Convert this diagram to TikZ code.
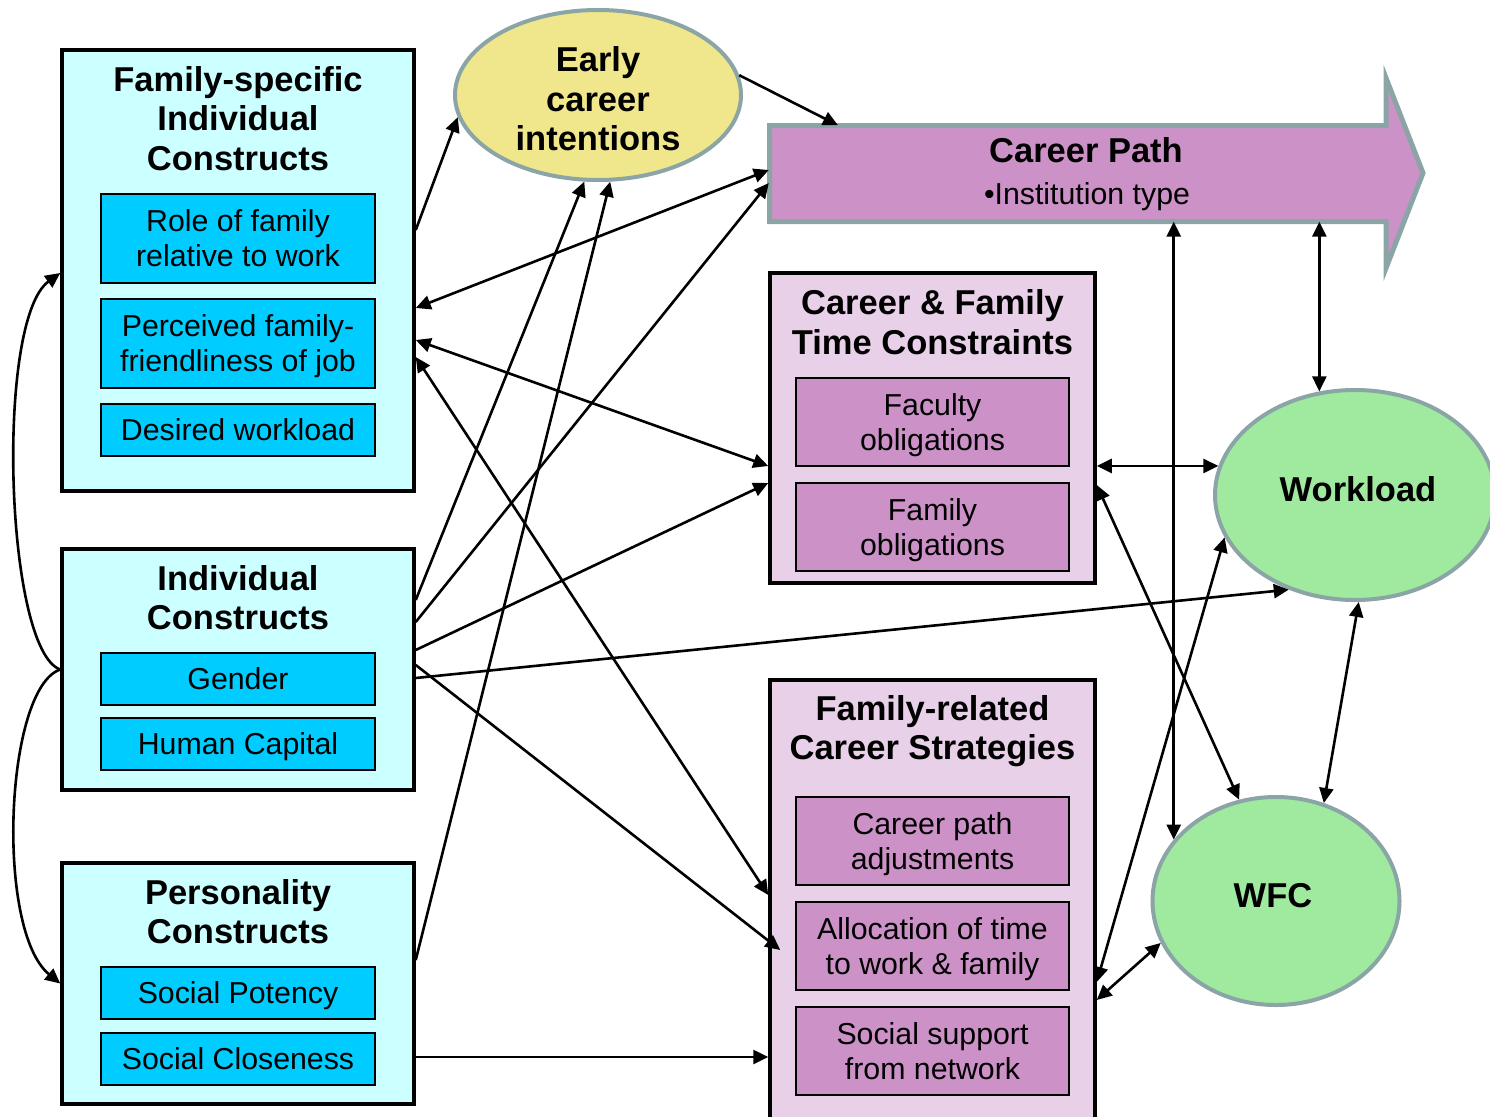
\documentclass[tikz,border=0pt]{standalone}
\usepackage{fontspec}
\setmainfont{Liberation Sans}
\usetikzlibrary{arrows.meta,shapes.geometric,calc}

\definecolor{cyanlight}{HTML}{CCFFFF}
\definecolor{cyanbox}{HTML}{00CCFF}
\definecolor{pinklight}{HTML}{E8D0E8}
\definecolor{orchidbox}{HTML}{CC92C8}
\definecolor{khakifill}{HTML}{F0E68C}
\definecolor{mintfill}{HTML}{A0EAA0}
\definecolor{slateedge}{HTML}{8BA5A6}

\begin{document}
\begin{tikzpicture}[x=1pt,y=-1pt,
  groupbox/.style={draw=black,line width=3.5pt,inner sep=0pt},
  itembox/.style={draw=black,line width=1.8pt,inner sep=0pt,align=center,
    font=\fontsize{30.3}{35}\selectfont},
  oneline/.style={text height=22pt,text depth=0.5pt},
  twoline/.style={text height=57pt,text depth=0.5pt},
  cyanitem/.style={itembox,fill=cyanbox,minimum width=274pt},
  orchiditem/.style={itembox,twoline,fill=orchidbox,minimum width=273pt},
  heading/.style={font=\fontsize{34.5}{39.5}\selectfont\bfseries,align=center,inner sep=0pt},
  oval/.style={ellipse,draw=slateedge,line width=4pt,inner sep=0pt},
  link/.style={line width=2.6pt,draw=black},
  >={Triangle[length=15pt,width=14pt]}
]
\useasboundingbox (0,0) rectangle (1490,1116);

% ---- left column: individual-level constructs ----
\node[groupbox,fill=cyanlight,minimum width=352pt,minimum height=441pt] (fs) at (238,270.5) {};
\node[heading] (fstitle) at (238,118.5) {Family-specific\\Individual\\Constructs};
\node[cyanitem,twoline,minimum height=89pt] (fsrole) at (238,238.5) {Role of family\\relative to work};
\node[cyanitem,twoline,minimum height=89pt] (fsperc) at (238,343.5) {Perceived family-\\friendliness of job};
\node[cyanitem,oneline,minimum height=52pt] (fsdes) at (238,430) {Desired workload};

\node[groupbox,fill=cyanlight,minimum width=352pt,minimum height=241pt] (ic) at (238,669.5) {};
\node[heading] (ictitle) at (238,597.5) {Individual\\Constructs};
\node[cyanitem,oneline,minimum height=52pt] (icgen) at (238,679) {Gender};
\node[cyanitem,oneline,minimum height=52pt] (ichum) at (238,744) {Human Capital};

\node[groupbox,fill=cyanlight,minimum width=352pt,minimum height=241pt] (pc) at (238,983.5) {};
\node[heading] (pctitle) at (238,911.5) {Personality\\Constructs};
\node[cyanitem,oneline,minimum height=52pt] (pcpot) at (238,993) {Social Potency};
\node[cyanitem,oneline,minimum height=52pt] (pcclo) at (238,1059) {Social Closeness};

% ---- early career intentions ----
\node[oval,fill=khakifill,minimum width=286pt,minimum height=170pt] (ec) at (598,95) {};
\node[heading] (ectitle) at (598,99) {Early\\career\\intentions};

% ---- career path arrow ----
\draw[draw=slateedge,fill=orchidbox,line width=5pt,line join=miter]
  (769.5,125.5) -- (1386,125.5) -- (1386,78) -- (1423,173) -- (1386,268)
  -- (1386,221.5) -- (769.5,221.5) -- cycle;
\node[inner sep=0pt,minimum width=616pt,minimum height=96pt] (cp) at (1077,173.5) {};
\node[heading] (cptitle) at (1086,150) {Career Path};
\node[inner sep=0pt,font=\fontsize{30.3}{35}\selectfont] (cpitem) at (1087,197) {•Institution type};

% ---- time constraints ----
\node[groupbox,fill=pinklight,minimum width=325pt,minimum height=310pt] (cftc) at (932.5,428) {};
\node[heading] (cftctitle) at (932.5,322) {Career \& Family\\Time Constraints};
\node[orchiditem,minimum height=88pt] (cffac) at (932.5,422) {Faculty\\obligations};
\node[orchiditem,minimum height=88pt] (cffam) at (932.5,527) {Family\\obligations};

% ---- career strategies ----
\node[groupbox,fill=pinklight,minimum width=325pt,minimum height=450pt] (frcs) at (932.5,905) {};
\node[heading] (frcstitle) at (932.5,731) {Family-related\\Career Strategies};
\node[orchiditem,minimum height=88pt] (frcpath) at (932.5,841) {Career path\\adjustments};
\node[orchiditem,minimum height=88pt] (frcalloc) at (932.5,946) {Allocation of time\\to work \& family};
\node[orchiditem,minimum height=88pt] (frcsup) at (932.5,1051) {Social support\\from network};

% ---- outcomes ----
\node[oval,fill=mintfill,minimum width=280pt,minimum height=210pt] (wl) at (1355,495) {};
\node[heading] (wltitle) at (1358,489) {Workload};
\node[oval,fill=mintfill,minimum width=247pt,minimum height=208pt] (wfc) at (1276,901) {};
\node[heading] (wfctitle) at (1273,896) {WFC};

% ---- connectors ----
% brackets on the left
\draw[link,->] (ic.west) .. controls (5,650) and (-5,320) .. (fs.west |- 0,273);
\draw[link,->] (ic.west) .. controls (5,688) and (-5,930) .. (pc.west);

% from family-specific constructs
\draw[link,->] (fs.east |- 0,230) -- (ec.189);
\draw[link,<->] (fs.east |- 0,308) -- (cp.west |- 0,170);
\draw[link,<->] (fs.east |- 0,340) -- (cftc.west |- 0,466);
\draw[link,<->] (fs.east |- 0,357) -- (frcs.west |- 0,895);

% from individual constructs
\draw[link,->] (ic.east |- 0,600) -- (ec.261);
\draw[link,->] (ic.east |- 0,622) -- (cp.west |- 0,183);
\draw[link,->] (ic.east |- 0,650) -- (cftc.west |- 0,483);
\draw[link,->] (ic.east |- 0,665) -- ($(frcs.west |- 0,950)+(12,0)$);
\draw[link,->] (ic.east |- 0,678) -- (wl.235.6);

% from personality constructs
\draw[link,->] (pc.east |- 0,960) -- (ec.278);
\draw[link,->] (pc.east |- 0,1057) -- (frcs.west |- 0,1057);

% early intentions to career path
\draw[link,->] (ec.8) -- (cp.north -| 838,0);

% career path with outcomes
\draw[link,<->] (cp.south -| wfc.149.3) -- (wfc.149.3);
\draw[link,<->] (cp.south -| wl.109) -- (wl.109);

% constraints and strategies with outcomes
\draw[link,<->] (cftc.east |- wl.168.3) -- (wl.168.3);
\draw[link,<->] (cftc.east |- 0,485) -- (wfc.110.2);
\draw[link,<->] (frcs.east |- 0,982) -- (wl.198.7);
\draw[link,<->] (frcs.east |- 0,1000) -- (wfc.200.1);
\draw[link,<->] (wl.272) -- (wfc.64.7);
\end{tikzpicture}
\end{document}
